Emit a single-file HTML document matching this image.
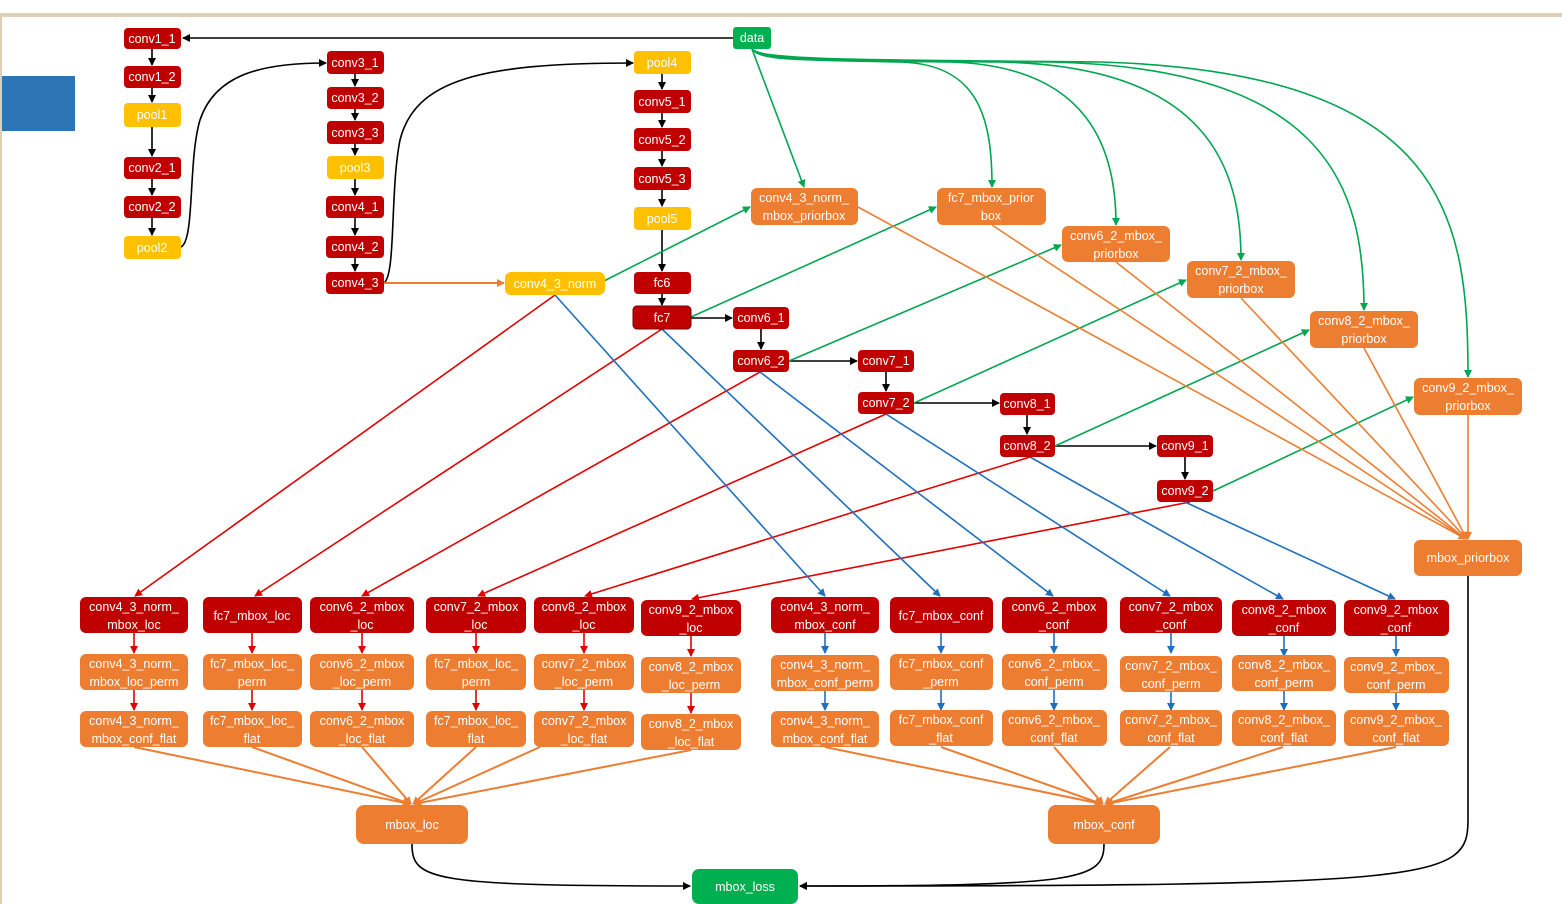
<!DOCTYPE html>
<html><head><meta charset="utf-8"><style>
html,body{margin:0;padding:0;background:#fff}
svg{display:block}
text{font-family:"Liberation Sans",sans-serif;font-size:12.5px;fill:#fff;text-anchor:middle}
</style></head><body>
<svg width="1562" height="904" viewBox="0 0 1562 904" xmlns="http://www.w3.org/2000/svg">
<defs>
<marker id="ak" markerWidth="8" markerHeight="8" refX="7" refY="4" orient="auto" markerUnits="userSpaceOnUse"><path d="M0,0 L8,4 L0,8 z" fill="#000"/></marker>
<marker id="ar" markerWidth="8" markerHeight="8" refX="7" refY="4" orient="auto" markerUnits="userSpaceOnUse"><path d="M0,0 L8,4 L0,8 z" fill="#e00000"/></marker>
<marker id="ab" markerWidth="8" markerHeight="8" refX="7" refY="4" orient="auto" markerUnits="userSpaceOnUse"><path d="M0,0 L8,4 L0,8 z" fill="#1f6fbf"/></marker>
<marker id="ag" markerWidth="8" markerHeight="8" refX="7" refY="4" orient="auto" markerUnits="userSpaceOnUse"><path d="M0,0 L8,4 L0,8 z" fill="#00a650"/></marker>
<marker id="ao" markerWidth="8" markerHeight="8" refX="7" refY="4" orient="auto" markerUnits="userSpaceOnUse"><path d="M0,0 L8,4 L0,8 z" fill="#ed7d31"/></marker>
</defs>
<rect x="0" y="13" width="1562" height="4" fill="#ddd0b4"/>
<rect x="0" y="13" width="2" height="891" fill="#ddd0b4"/>
<rect x="2" y="76" width="73" height="55" fill="#2e75b6"/>

<!-- connectors -->
<g fill="none" stroke-width="1.6">
<!-- black chain -->
<g stroke="#000" marker-end="url(#ak)">
<line x1="733" y1="38" x2="183" y2="38"/>
<line x1="152" y1="49" x2="152" y2="65"/>
<line x1="152" y1="88" x2="152" y2="102"/>
<line x1="152" y1="127" x2="152" y2="156"/>
<line x1="152" y1="179" x2="152" y2="195"/>
<line x1="152" y1="218" x2="152" y2="235"/>
<path d="M181,247 C195,240 188,160 200,120 C215,75 260,63 326,63"/>
<line x1="355" y1="74" x2="355" y2="86"/>
<line x1="355" y1="109" x2="355" y2="120"/>
<line x1="355" y1="144" x2="355" y2="155"/>
<line x1="355" y1="179" x2="355" y2="195"/>
<line x1="355" y1="218" x2="355" y2="235"/>
<line x1="355" y1="258" x2="355" y2="271"/>
<path d="M384,283 C396,275 390,190 400,140 C415,80 480,63 633,63"/>
<line x1="662" y1="74" x2="662" y2="89"/>
<line x1="662" y1="113" x2="662" y2="127"/>
<line x1="662" y1="151" x2="662" y2="166"/>
<line x1="662" y1="190" x2="662" y2="206"/>
<line x1="662" y1="230" x2="662" y2="271"/>
<line x1="662" y1="294" x2="662" y2="305"/>
<line x1="691" y1="318" x2="732" y2="318"/>
<line x1="761" y1="329" x2="761" y2="349"/>
<line x1="789" y1="361" x2="857" y2="361"/>
<line x1="886" y1="372" x2="886" y2="391"/>
<line x1="914" y1="403" x2="999" y2="403"/>
<line x1="1027" y1="415" x2="1027" y2="434"/>
<line x1="1055" y1="446" x2="1156" y2="446"/>
<line x1="1185" y1="457" x2="1185" y2="479"/>
<path d="M412,844 C412,880 430,886 690,886"/>
<path d="M1104,844 C1104,880 1080,886 800,886"/>
<path d="M1468,576 L1468,820 C1468,880 1440,886 800,886"/>
</g>
<line x1="384" y1="283" x2="504" y2="283" stroke="#ed7d31" stroke-width="2" marker-end="url(#ao)"/>
<!-- red to loc -->
<g stroke="#e00000" marker-end="url(#ar)">
<line x1="555" y1="295" x2="135" y2="596"/>
<line x1="662" y1="329" x2="255" y2="596"/>
<line x1="760" y1="372" x2="362" y2="596"/>
<line x1="886" y1="414" x2="478" y2="596"/>
<line x1="1030" y1="457" x2="585" y2="596"/>
<line x1="1190" y1="502" x2="692" y2="599"/>
</g>
<!-- blue to conf -->
<g stroke="#1f6fbf" marker-end="url(#ab)">
<line x1="555" y1="295" x2="825" y2="596"/>
<line x1="662" y1="329" x2="940" y2="596"/>
<line x1="760" y1="372" x2="1053" y2="596"/>
<line x1="886" y1="414" x2="1170" y2="596"/>
<line x1="1030" y1="457" x2="1283" y2="599"/>
<line x1="1185" y1="502" x2="1395" y2="599"/>
</g>
<!-- green -->
<g stroke="#00a650" marker-end="url(#ag)">
<line x1="600" y1="283" x2="750" y2="207"/>
<line x1="691" y1="317" x2="936" y2="207"/>
<line x1="789" y1="361" x2="1061" y2="245"/>
<line x1="914" y1="403" x2="1186" y2="280"/>
<line x1="1055" y1="446" x2="1309" y2="330"/>
<line x1="1213" y1="491" x2="1413" y2="397"/>
<line x1="752" y1="49" x2="804" y2="187"/>
<path d="M752,49 C760,60 790,60 900,62 C980,64 992,120 992,187"/>
<path d="M752,49 C760,60 800,60 950,62 C1090,66 1116,150 1116,225"/>
<path d="M752,49 C760,60 820,60 1000,62 C1210,66 1241,170 1241,260"/>
<path d="M752,49 C760,60 840,60 1050,62 C1330,68 1364,190 1364,310"/>
<path d="M752,49 C760,60 860,60 1100,62 C1450,72 1468,220 1468,377"/>
</g>
<!-- orange to mbox_priorbox -->
<g stroke="#ed7d31" marker-end="url(#ao)">
<line x1="858" y1="207" x2="1466" y2="539"/>
<line x1="992" y1="225" x2="1466" y2="539"/>
<line x1="1116" y1="262" x2="1466" y2="539"/>
<line x1="1241" y1="298" x2="1467" y2="539"/>
<line x1="1364" y1="348" x2="1467" y2="539"/>
<line x1="1468" y1="415" x2="1468" y2="539"/>
</g>
<!-- fans -->
<g stroke="#ed7d31" stroke-width="2" marker-end="url(#ao)">
<line x1="134" y1="747" x2="410" y2="804"/>
<line x1="252" y1="747" x2="410" y2="804"/>
<line x1="362" y1="747" x2="411" y2="804"/>
<line x1="476" y1="747" x2="413" y2="804"/>
<line x1="540" y1="747" x2="414" y2="804"/>
<line x1="691" y1="750" x2="414" y2="804"/>
<line x1="825" y1="747" x2="1102" y2="804"/>
<line x1="941" y1="747" x2="1102" y2="804"/>
<line x1="1054" y1="747" x2="1103" y2="804"/>
<line x1="1170" y1="747" x2="1105" y2="804"/>
<line x1="1283" y1="747" x2="1106" y2="804"/>
<line x1="1396" y1="747" x2="1106" y2="804"/>
</g>
<!-- row vertical arrows -->
<g stroke="#e00000" marker-end="url(#ar)">
<line x1="134" y1="633" x2="134" y2="653"/><line x1="134" y1="690" x2="134" y2="710"/>
<line x1="252" y1="633" x2="252" y2="653"/><line x1="252" y1="690" x2="252" y2="710"/>
<line x1="362" y1="633" x2="362" y2="653"/><line x1="362" y1="690" x2="362" y2="710"/>
<line x1="476" y1="633" x2="476" y2="653"/><line x1="476" y1="690" x2="476" y2="710"/>
<line x1="584" y1="633" x2="584" y2="653"/><line x1="584" y1="690" x2="584" y2="710"/>
<line x1="691" y1="636" x2="691" y2="656"/><line x1="691" y1="693" x2="691" y2="713"/>
</g>
<g stroke="#1f6fbf" marker-end="url(#ab)">
<line x1="825" y1="633" x2="825" y2="653"/><line x1="825" y1="690" x2="825" y2="710"/>
<line x1="941" y1="633" x2="941" y2="653"/><line x1="941" y1="690" x2="941" y2="710"/>
<line x1="1054" y1="633" x2="1054" y2="653"/><line x1="1054" y1="690" x2="1054" y2="710"/>
<line x1="1171" y1="633" x2="1171" y2="653"/><line x1="1171" y1="690" x2="1171" y2="710"/>
<line x1="1284" y1="636" x2="1284" y2="656"/><line x1="1284" y1="690" x2="1284" y2="710"/>
<line x1="1396" y1="636" x2="1396" y2="656"/><line x1="1396" y1="693" x2="1396" y2="710"/>
</g>
</g>

<!-- nodes -->
<g>
<rect x="124" y="28" width="57" height="21" rx="4" fill="#c00000"/><text x="152" y="43">conv1_1</text>
<rect x="124" y="66" width="57" height="22" rx="4" fill="#c00000"/><text x="152" y="81">conv1_2</text>
<rect x="124" y="103" width="57" height="24" rx="4" fill="#ffc000"/><text x="152" y="119">pool1</text>
<rect x="124" y="157" width="57" height="22" rx="4" fill="#c00000"/><text x="152" y="172">conv2_1</text>
<rect x="124" y="196" width="57" height="22" rx="4" fill="#c00000"/><text x="152" y="211">conv2_2</text>
<rect x="124" y="236" width="57" height="23" rx="4" fill="#ffc000"/><text x="152" y="252">pool2</text>
<rect x="327" y="51" width="57" height="23" rx="4" fill="#c00000"/><text x="355" y="67">conv3_1</text>
<rect x="327" y="87" width="57" height="22" rx="4" fill="#c00000"/><text x="355" y="102">conv3_2</text>
<rect x="327" y="121" width="57" height="23" rx="4" fill="#c00000"/><text x="355" y="137">conv3_3</text>
<rect x="327" y="156" width="57" height="23" rx="4" fill="#ffc000"/><text x="355" y="172">pool3</text>
<rect x="326" y="196" width="58" height="22" rx="4" fill="#c00000"/><text x="355" y="211">conv4_1</text>
<rect x="326" y="236" width="58" height="22" rx="4" fill="#c00000"/><text x="355" y="251">conv4_2</text>
<rect x="326" y="272" width="58" height="22" rx="4" fill="#c00000"/><text x="355" y="287">conv4_3</text>
<rect x="505" y="272" width="100" height="23" rx="6" fill="#ffc000"/><text x="555" y="288">conv4_3_norm</text>
<rect x="634" y="51" width="57" height="23" rx="4" fill="#ffc000"/><text x="662" y="67">pool4</text>
<rect x="634" y="90" width="57" height="23" rx="4" fill="#c00000"/><text x="662" y="106">conv5_1</text>
<rect x="634" y="128" width="57" height="23" rx="4" fill="#c00000"/><text x="662" y="144">conv5_2</text>
<rect x="634" y="167" width="57" height="23" rx="4" fill="#c00000"/><text x="662" y="183">conv5_3</text>
<rect x="634" y="207" width="57" height="23" rx="4" fill="#ffc000"/><text x="662" y="223">pool5</text>
<rect x="634" y="272" width="57" height="22" rx="4" fill="#c00000"/><text x="662" y="287">fc6</text>
<rect x="633" y="306" width="58" height="23" rx="4" fill="#c00000" stroke="#700" stroke-width="1"/><text x="662" y="322">fc7</text>
<rect x="733" y="27" width="38" height="22" rx="3" fill="#00b050"/><text x="752" y="42">data</text>
<rect x="733" y="307" width="56" height="22" rx="4" fill="#c00000"/><text x="761" y="322">conv6_1</text>
<rect x="733" y="350" width="56" height="22" rx="4" fill="#c00000"/><text x="761" y="365">conv6_2</text>
<rect x="858" y="350" width="56" height="22" rx="4" fill="#c00000"/><text x="886" y="365">conv7_1</text>
<rect x="858" y="392" width="56" height="22" rx="4" fill="#c00000"/><text x="886" y="407">conv7_2</text>
<rect x="1000" y="393" width="55" height="22" rx="4" fill="#c00000"/><text x="1027" y="408">conv8_1</text>
<rect x="1000" y="435" width="55" height="22" rx="4" fill="#c00000"/><text x="1027" y="450">conv8_2</text>
<rect x="1157" y="435" width="56" height="22" rx="4" fill="#c00000"/><text x="1185" y="450">conv9_1</text>
<rect x="1157" y="480" width="56" height="22" rx="4" fill="#c00000"/><text x="1185" y="495">conv9_2</text>

<g fill="#ed7d31">
<rect x="751" y="188" width="107" height="37" rx="6"/><rect x="937" y="188" width="109" height="37" rx="6"/>
<rect x="1062" y="226" width="108" height="36" rx="6"/><rect x="1187" y="261" width="108" height="37" rx="6"/>
<rect x="1310" y="311" width="108" height="37" rx="6"/><rect x="1414" y="378" width="108" height="37" rx="6"/>
<rect x="1414" y="540" width="108" height="36" rx="6"/>
</g>
<text x="804" y="202">conv4_3_norm_</text><text x="804" y="220">mbox_priorbox</text>
<text x="991" y="202">fc7_mbox_prior</text><text x="991" y="220">box</text>
<text x="1116" y="240">conv6_2_mbox_</text><text x="1116" y="258">priorbox</text>
<text x="1241" y="275">conv7_2_mbox_</text><text x="1241" y="293">priorbox</text>
<text x="1364" y="325">conv8_2_mbox_</text><text x="1364" y="343">priorbox</text>
<text x="1468" y="392">conv9_2_mbox_</text><text x="1468" y="410">priorbox</text>
<text x="1468" y="562">mbox_priorbox</text>

<!-- row 1 -->
<g fill="#c00000">
<rect x="80" y="597" width="108" height="36" rx="6"/><rect x="203" y="597" width="99" height="36" rx="6"/>
<rect x="310" y="597" width="104" height="36" rx="6"/><rect x="426" y="597" width="100" height="36" rx="6"/>
<rect x="534" y="597" width="100" height="36" rx="6"/><rect x="641" y="600" width="100" height="36" rx="6"/>
<rect x="771" y="597" width="108" height="36" rx="6"/><rect x="890" y="597" width="103" height="36" rx="6"/>
<rect x="1002" y="597" width="105" height="36" rx="6"/><rect x="1120" y="597" width="102" height="36" rx="6"/>
<rect x="1232" y="600" width="104" height="36" rx="6"/><rect x="1344" y="600" width="105" height="36" rx="6"/>
</g>
<text x="134" y="611">conv4_3_norm_</text><text x="134" y="629">mbox_loc</text>
<text x="252" y="620">fc7_mbox_loc</text>
<text x="362" y="611">conv6_2_mbox</text><text x="362" y="629">_loc</text>
<text x="476" y="611">conv7_2_mbox</text><text x="476" y="629">_loc</text>
<text x="584" y="611">conv8_2_mbox</text><text x="584" y="629">_loc</text>
<text x="691" y="614">conv9_2_mbox</text><text x="691" y="632">_loc</text>
<text x="825" y="611">conv4_3_norm_</text><text x="825" y="629">mbox_conf</text>
<text x="941" y="620">fc7_mbox_conf</text>
<text x="1054" y="611">conv6_2_mbox</text><text x="1054" y="629">_conf</text>
<text x="1171" y="611">conv7_2_mbox</text><text x="1171" y="629">_conf</text>
<text x="1284" y="614">conv8_2_mbox</text><text x="1284" y="632">_conf</text>
<text x="1396" y="614">conv9_2_mbox</text><text x="1396" y="632">_conf</text>

<!-- row 2 & 3 -->
<g fill="#ed7d31">
<rect x="80" y="654" width="108" height="36" rx="6"/><rect x="203" y="654" width="99" height="36" rx="6"/>
<rect x="310" y="654" width="104" height="36" rx="6"/><rect x="426" y="654" width="100" height="36" rx="6"/>
<rect x="534" y="654" width="100" height="36" rx="6"/><rect x="641" y="657" width="100" height="36" rx="6"/>
<rect x="771" y="655" width="108" height="36" rx="6"/><rect x="890" y="654" width="103" height="36" rx="6"/>
<rect x="1002" y="654" width="105" height="36" rx="6"/><rect x="1120" y="656" width="102" height="36" rx="6"/>
<rect x="1232" y="655" width="104" height="36" rx="6"/><rect x="1344" y="657" width="105" height="36" rx="6"/>
<rect x="80" y="711" width="108" height="36" rx="6"/><rect x="203" y="711" width="99" height="36" rx="6"/>
<rect x="310" y="711" width="104" height="36" rx="6"/><rect x="426" y="711" width="100" height="36" rx="6"/>
<rect x="534" y="711" width="100" height="36" rx="6"/><rect x="641" y="714" width="100" height="36" rx="6"/>
<rect x="771" y="711" width="108" height="36" rx="6"/><rect x="890" y="710" width="103" height="36" rx="6"/>
<rect x="1002" y="710" width="105" height="36" rx="6"/><rect x="1120" y="710" width="102" height="36" rx="6"/>
<rect x="1232" y="710" width="104" height="36" rx="6"/><rect x="1344" y="710" width="105" height="36" rx="6"/>
<rect x="356" y="805" width="112" height="39" rx="8"/><rect x="1048" y="805" width="112" height="39" rx="8"/>
</g>
<text x="134" y="668">conv4_3_norm_</text><text x="134" y="686">mbox_loc_perm</text>
<text x="252" y="668">fc7_mbox_loc_</text><text x="252" y="686">perm</text>
<text x="362" y="668">conv6_2_mbox</text><text x="362" y="686">_loc_perm</text>
<text x="476" y="668">fc7_mbox_loc_</text><text x="476" y="686">perm</text>
<text x="584" y="668">conv7_2_mbox</text><text x="584" y="686">_loc_perm</text>
<text x="691" y="671">conv8_2_mbox</text><text x="691" y="689">_loc_perm</text>
<text x="825" y="669">conv4_3_norm_</text><text x="825" y="687">mbox_conf_perm</text>
<text x="941" y="668">fc7_mbox_conf</text><text x="941" y="686">_perm</text>
<text x="1054" y="668">conv6_2_mbox_</text><text x="1054" y="686">conf_perm</text>
<text x="1171" y="670">conv7_2_mbox_</text><text x="1171" y="688">conf_perm</text>
<text x="1284" y="669">conv8_2_mbox_</text><text x="1284" y="687">conf_perm</text>
<text x="1396" y="671">conv9_2_mbox_</text><text x="1396" y="689">conf_perm</text>
<text x="134" y="725">conv4_3_norm_</text><text x="134" y="743">mbox_conf_flat</text>
<text x="252" y="725">fc7_mbox_loc_</text><text x="252" y="743">flat</text>
<text x="362" y="725">conv6_2_mbox</text><text x="362" y="743">_loc_flat</text>
<text x="476" y="725">fc7_mbox_loc_</text><text x="476" y="743">flat</text>
<text x="584" y="725">conv7_2_mbox</text><text x="584" y="743">_loc_flat</text>
<text x="691" y="728">conv8_2_mbox</text><text x="691" y="746">_loc_flat</text>
<text x="825" y="725">conv4_3_norm_</text><text x="825" y="743">mbox_conf_flat</text>
<text x="941" y="724">fc7_mbox_conf</text><text x="941" y="742">_flat</text>
<text x="1054" y="724">conv6_2_mbox_</text><text x="1054" y="742">conf_flat</text>
<text x="1171" y="724">conv7_2_mbox_</text><text x="1171" y="742">conf_flat</text>
<text x="1284" y="724">conv8_2_mbox_</text><text x="1284" y="742">conf_flat</text>
<text x="1396" y="724">conv9_2_mbox_</text><text x="1396" y="742">conf_flat</text>
<text x="412" y="829">mbox_loc</text>
<text x="1104" y="829">mbox_conf</text>
<rect x="692" y="869" width="106" height="35" rx="7" fill="#00b050"/><text x="745" y="891">mbox_loss</text>
</g>
</svg>
</body></html>
